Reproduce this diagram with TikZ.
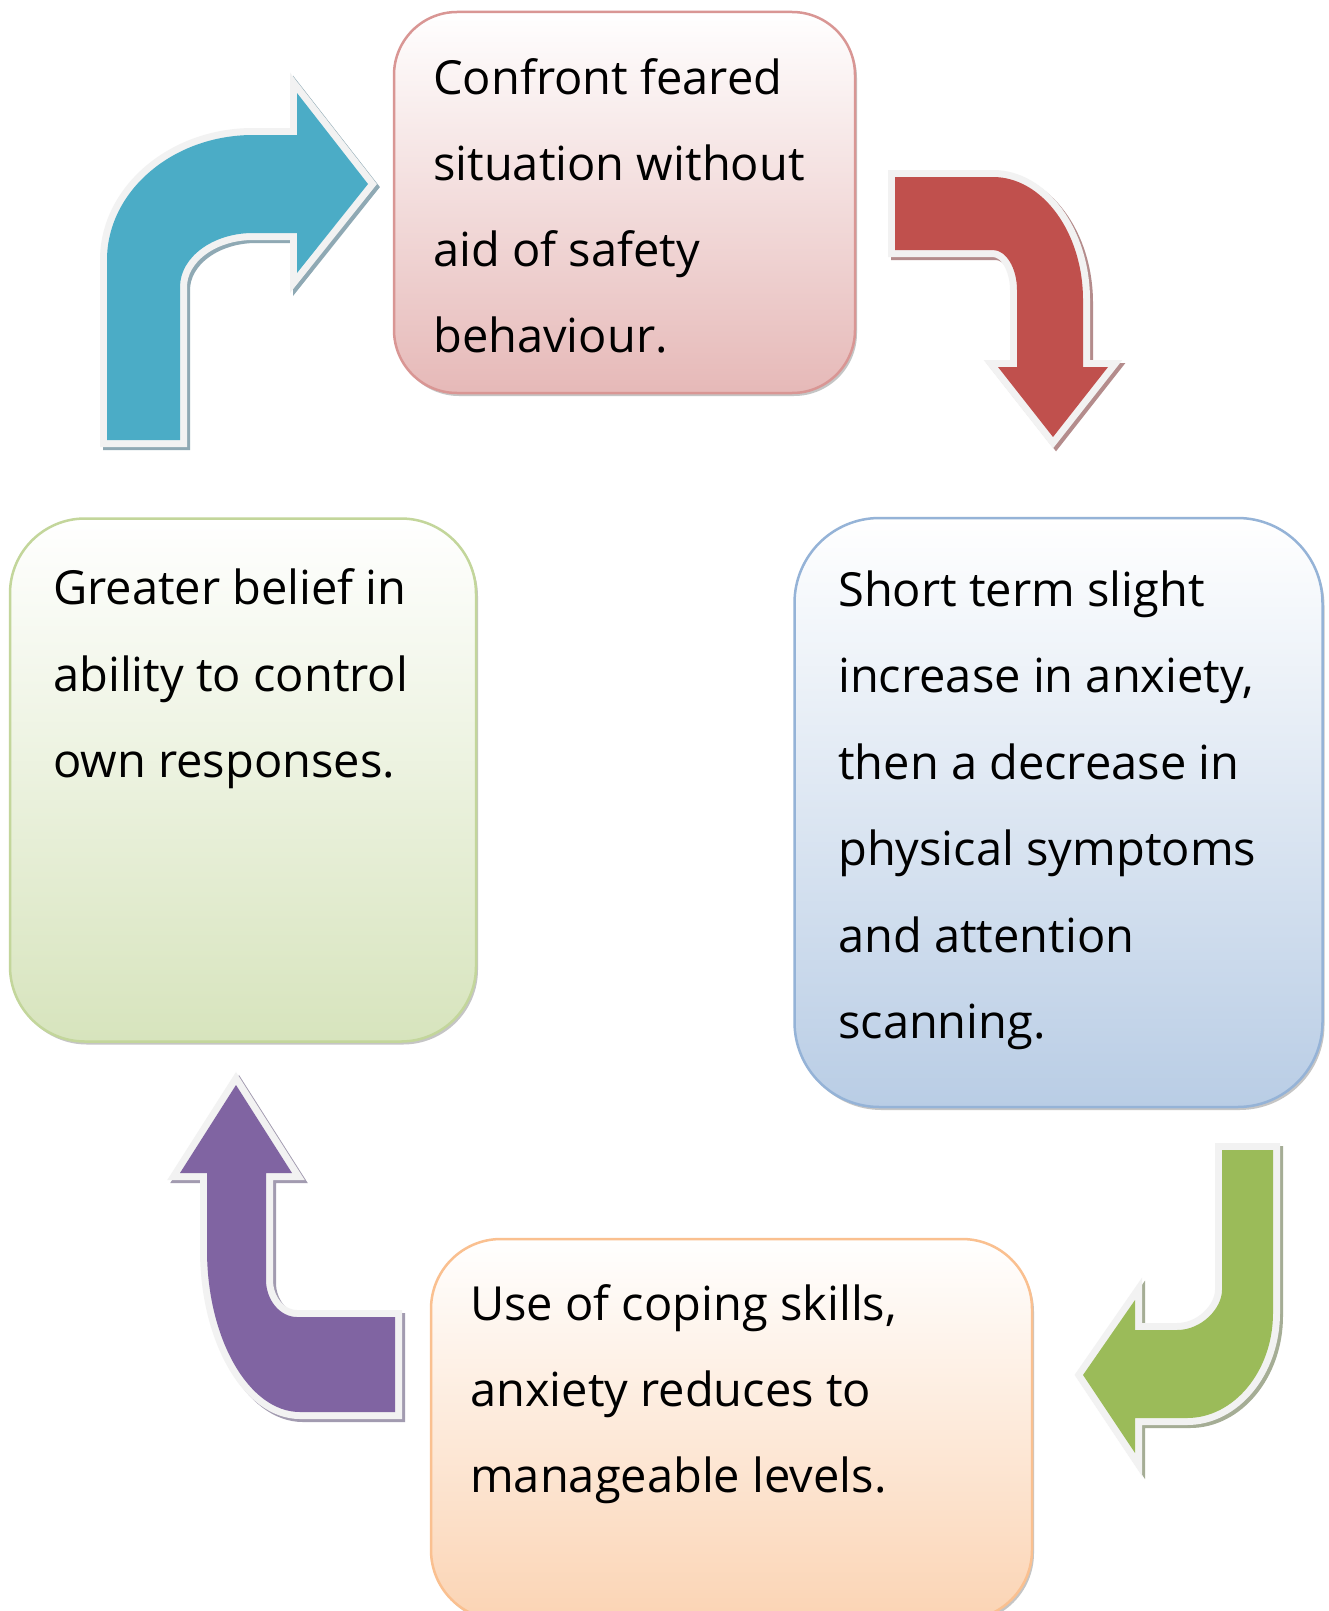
\documentclass[tikz,border=0pt]{standalone}
\usepackage{fontspec}
\setmainfont{Open Sans}
\usetikzlibrary{shadows}
\definecolor{tealA}{HTML}{4BACC6}
\definecolor{tealS}{HTML}{8FA9B4}
\definecolor{redA}{HTML}{C0504D}
\definecolor{redS}{HTML}{B48C8C}
\definecolor{greenA}{HTML}{9BBB59}
\definecolor{greenS}{HTML}{A5AD95}
\definecolor{purpleA}{HTML}{8064A2}
\definecolor{purpleS}{HTML}{A29BB0}
\definecolor{arrowedge}{HTML}{F2F2F2}
\definecolor{redB}{HTML}{D99694}
\definecolor{redF}{HTML}{E6B9B8}
\definecolor{blueB}{HTML}{95B3D7}
\definecolor{blueF}{HTML}{B9CDE5}
\definecolor{greenB}{HTML}{C3D69B}
\definecolor{greenF}{HTML}{D7E4BD}
\definecolor{orangeB}{HTML}{FAC090}
\definecolor{orangeF}{HTML}{FBD4B4}
\tikzset{
  box/.style={rounded corners=#1, line width=2.5pt, inner sep=0pt, outer sep=0pt,
    drop shadow={shadow xshift=2pt, shadow yshift=-3pt, fill=black!45, opacity=.5}},
  blockarrow/.style 2 args={line join=miter,
    general shadow={shadow xshift=3pt, shadow yshift=-3pt, draw=#2, fill=#2, line width=14pt, line join=miter},
    preaction={draw=arrowedge, line width=14pt, line join=miter},
    fill=#1},
  txt/.style={anchor=base west, inner sep=0pt, font=\fontsize{47pt}{86pt}\selectfont, text=black}
}
\begin{document}
\begin{tikzpicture}[x=1pt,y=-1pt]
\useasboundingbox (0,0) rectangle (1329,1611);
\fill[white] (0,0) rectangle (1329,1611);

% boxes
\node[box=63pt, draw=redB, top color=white, bottom color=redF, minimum width=461pt, minimum height=381pt] (top) at (624.5,202.5) {};
\node[box=85pt, draw=blueB, top color=white, bottom color=blueF, minimum width=528pt, minimum height=589pt] (right) at (1058.5,812.5) {};
\node[box=75pt, draw=greenB, top color=white, bottom color=greenF, minimum width=466pt, minimum height=523pt] (left) at (243,780) {};
\node[box=70pt, draw=orangeB, top color=white, bottom color=orangeF, minimum width=601pt, minimum height=381pt] (bottom) at (731.5,1429.5) {};

% texts
\node[txt] (t1) at (433,94) {Confront feared};
\node[txt] (t2) at (433,180) {situation without};
\node[txt] (t3) at (433,266) {aid of safety};
\node[txt] (t4) at (433,352) {behaviour.};

\node[txt] (r1) at (838,606) {Short term slight};
\node[txt] (r2) at (838,692) {increase in anxiety,};
\node[txt] (r3) at (838,779) {then a decrease in};
\node[txt] (r4) at (838,865) {physical symptoms};
\node[txt] (r5) at (838,952) {and attention};
\node[txt] (r6) at (838,1038) {scanning.};

\node[txt] (b1) at (470,1320) {Use of coping skills,};
\node[txt] (b2) at (470,1406) {anxiety reduces to};
\node[txt] (b3) at (470,1492) {manageable levels.};

\node[txt] (l1) at (53,604) {Greater belief in};
\node[txt] (l2) at (53,691) {ability to control};
\node[txt] (l3) at (53,777) {own responses.};

% teal arrow (left -> top)
\path[blockarrow={tealA}{tealS}]
  (107,440) -- (107,260) .. controls (107,191) and (173,135) .. (253,135)
  -- (297,135) -- (297,93) -- (368,184) -- (297,273) -- (297,233) -- (253,233)
  .. controls (213,233) and (180,257) .. (180,287) -- (180,440) -- cycle;

% red arrow (top -> right)
\path[blockarrow={redA}{redS}]
  (895,177) -- (993,177) .. controls (1042,177) and (1083,232) .. (1083,300)
  -- (1083,367) -- (1108,367) -- (1053,437) -- (998,367) -- (1017,367) -- (1017,290)
  .. controls (1017,268) and (1006,250) .. (993,250) -- (895,250) -- cycle;

% green arrow (right -> bottom)
\path[blockarrow={greenA}{greenS}]
  (1222,1150) -- (1273,1150) -- (1273,1313) .. controls (1273,1371) and (1234,1418) .. (1187,1418)
  -- (1135,1418) -- (1135,1453) -- (1083,1375) -- (1135,1300) -- (1135,1330) -- (1177,1330)
  .. controls (1202,1330) and (1222,1308) .. (1222,1290) -- cycle;

% purple arrow (bottom -> left)
\path[blockarrow={purpleA}{purpleS}]
  (395,1317) -- (297,1317) .. controls (280,1317) and (266,1300) .. (266,1280)
  -- (266,1173) -- (292,1173) -- (236,1085) -- (180,1173) -- (207,1173) -- (207,1250)
  .. controls (207,1339) and (249,1412) .. (300,1412) -- (395,1412) -- cycle;
\end{tikzpicture}
\end{document}
